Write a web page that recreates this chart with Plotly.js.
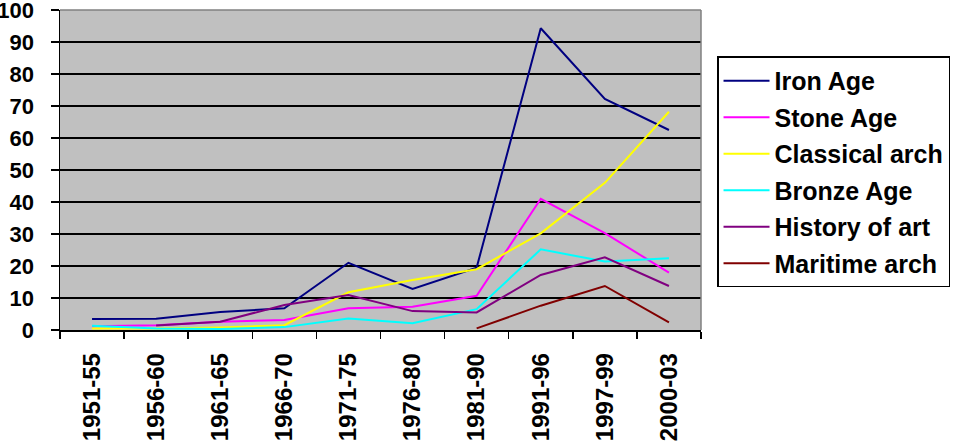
<!DOCTYPE html>
<html><head><meta charset="utf-8">
<script src="https://cdn.plot.ly/plotly-3.0.1.min.js"></script>
<style>body{margin:0;background:#fff}#c{width:960px;height:444px}</style>
</head><body><div id="c"></div>
<script>
const categories = ["1951-55","1956-60","1961-65","1966-70","1971-75","1976-80","1981-90","1991-96","1997-99","2000-03"];
const ironAge = [3.4, 3.5, 5.6, 6.8, 21, 12.8, 19.5, 94.3, 72.2, 62.5];
const stoneAge = [1.2, 1.5, 2.6, 3.1, 6.8, 7.3, 10.7, 41, 30.3, 17.9];
const classicalArch = [0.5, 0.5, 0.8, 1.5, 11.8, 15.6, 19, 30.2, 46, 68.2];
const bronzeAge = [1.3, 0.5, 0.3, 0.9, 3.6, 2.1, 6.5, 25.2, 21.4, 22.4];
const historyOfArt = [null, 1.4, 2.6, 7.8, 10.9, 5.9, 5.5, 17.2, 22.7, 13.75];
const maritimeArch = [null, null, null, null, null, null, 0.5, 7.6, 13.75, 2.4];
const yTicks = [0,10,20,30,40,50,60,70,80,90,100];

const series = [
  {name:"Iron Age", y:ironAge, color:"#000080"},
  {name:"Stone Age", y:stoneAge, color:"#FF00FF"},
  {name:"Classical arch", y:classicalArch, color:"#FFFF00"},
  {name:"Bronze Age", y:bronzeAge, color:"#00FFFF"},
  {name:"History of art", y:historyOfArt, color:"#800080"},
  {name:"Maritime arch", y:maritimeArch, color:"#800000"}
];
const fam = "Liberation Sans, Arial, sans-serif";
const traces = series.map((s,i)=>({
  type:"scatter", mode:"lines", x:categories, y:s.y, name:s.name,
  line:{color:s.color, width:2}, legendgroup:"g"+i, connectgaps:false
}));
const layout = {
  width:960, height:444,
  margin:{l:60, r:254, t:10, b:114},
  paper_bgcolor:"#fff", plot_bgcolor:"#C0C0C0",
  showlegend:true,
  legend:{x:1.025, y:0.855, xanchor:"left", yanchor:"top", bordercolor:"#000", borderwidth:1.5,
          bgcolor:"#fff", font:{family:fam, size:25, color:"#000", weight:"bold"}, tracegroupgap:1, itemwidth:46},
  xaxis:{type:"category", range:[-0.5,9.5], tickson:"boundaries", ticks:"outside", ticklen:7,
         tickwidth:1.5, tickcolor:"#000", showline:true, linecolor:"#000", linewidth:1.5,
         showgrid:false, tickangle:-90, tickfont:{family:fam, size:24, color:"#000", weight:"bold"},
         ticklabelstandoff:12, zeroline:false},
  yaxis:{range:[0,100], tickvals:yTicks, ticktext:yTicks.map(v=>String(v)+"\u00a0\u00a0"), ticks:"outside", ticklen:8, tickwidth:1.5, tickcolor:"#000",
         showline:true, linecolor:"#000", linewidth:1.5, showgrid:true, gridcolor:"#000", gridwidth:1.5,
         tickfont:{family:fam, size:22, color:"#000", weight:"bold"},
         ticklabeloverflow:"allow", zeroline:false},
  shapes:[
    {type:"line", xref:"paper", yref:"paper", x0:0, x1:1, y0:1, y1:1, line:{color:"#808080", width:1.5}},
    {type:"line", xref:"paper", yref:"paper", x0:1, x1:1, y0:0, y1:1, line:{color:"#808080", width:1.5}}
  ]
};
Plotly.newPlot("c", traces, layout, {displayModeBar:false, staticPlot:true});
</script></body></html>
